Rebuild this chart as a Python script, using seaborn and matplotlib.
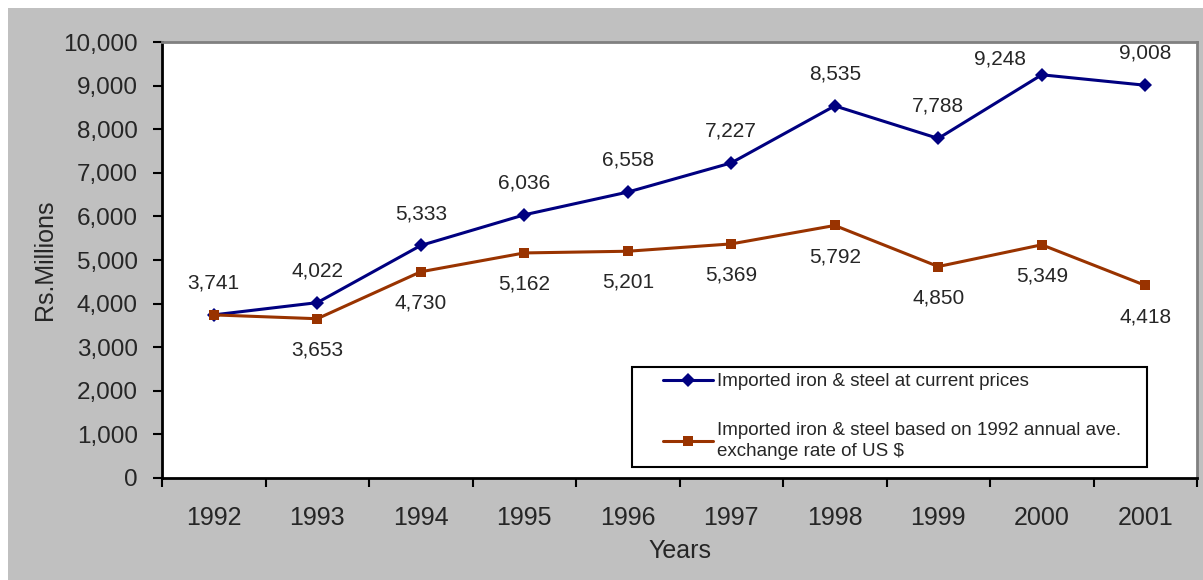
import numpy as np
import pandas as pd
import matplotlib.pyplot as plt
import matplotlib.patches as patches
from matplotlib.ticker import FuncFormatter, FixedLocator
import seaborn as sns

years = ['1992', '1993', '1994', '1995', '1996', '1997', '1998', '1999', '2000', '2001']
current_prices = [3741, 4022, 5333, 6036, 6558, 7227, 8535, 7788, 9248, 9008]
base_1992 = [3741, 3653, 4730, 5162, 5201, 5369, 5792, 4850, 5349, 4418]

lab_current = 'Imported iron & steel at current prices'
lab_base = 'Imported iron & steel based on 1992 annual ave.\nexchange rate of US $'

sns.set_style('white')
plt.rcParams['font.family'] = ['Liberation Sans', 'DejaVu Sans']

df = pd.DataFrame({
    'pos': list(range(len(years))) * 2,
    'value': current_prices + base_1992,
    'series': [lab_current] * len(years) + [lab_base] * len(years),
})

f = plt.figure(figsize=(12.03, 5.80), dpi=100, facecolor='white')
f.patches.append(patches.Rectangle((8 / 1203, 0), 1195 / 1203, 572 / 580,
                                   transform=f.transFigure, facecolor='#c0c0c0',
                                   edgecolor='none', zorder=-10))
ax = f.add_axes([162 / 1203, 102 / 580, 1035 / 1203, 436 / 580])
ax.set_facecolor('white')

palette = {lab_current: '#000080', lab_base: '#993300'}
sns.lineplot(data=df, x='pos', y='value', hue='series', style='series',
             palette=palette, markers={lab_current: 'D', lab_base: 's'},
             dashes=False, linewidth=2.2, markersize=7, markeredgewidth=0,
             ax=ax, legend=True)

# data labels, blue above / brown below (first point shared)
for i, v in enumerate(current_prices):
    off = (-30, 11.5) if years[i] == '2000' else (0, 23)
    ax.annotate(f'{v:,}', (i, v), xytext=off, textcoords='offset points',
                ha='center', va='center', fontsize=15, annotation_clip=False)
for i, v in enumerate(base_1992):
    if i == 0:
        continue
    ax.annotate(f'{v:,}', (i, v), xytext=(0, -22.5), textcoords='offset points',
                ha='center', va='center', fontsize=15)

ax.set_xlim(-0.5, len(years) - 0.5)
ax.set_ylim(0, 10000)
ax.yaxis.set_major_locator(FixedLocator(np.arange(0, 10001, 1000)))
ax.yaxis.set_major_formatter(FuncFormatter(lambda v, p: f'{int(v):,}'))
ax.set_xticks(np.arange(-0.5, len(years), 1.0))
ax.set_xticklabels([])
ax.set_xticks(range(len(years)), minor=True)
ax.set_xticklabels(years, minor=True)
ax.tick_params(axis='x', which='major', direction='out', length=6.5, width=1.5, color='black', bottom=True)
ax.tick_params(axis='x', which='minor', length=0, labelsize=18, pad=20)
ax.tick_params(axis='y', direction='out', length=6.5, width=1.5, color='black', left=True, labelsize=17.5, pad=11)

for s in ['left', 'bottom']:
    ax.spines[s].set_color('black')
    ax.spines[s].set_linewidth(2)
for s in ['top', 'right']:
    ax.spines[s].set_color('#808080')
    ax.spines[s].set_linewidth(2)

ax.set_xlabel('Years', fontsize=18, labelpad=7)
ax.set_ylabel('Rs.Millions', fontsize=18, labelpad=4.5)

# legend box drawn separately so the padding can match
ax.add_patch(patches.Rectangle((0.454, 0.025), 0.4976, 0.229, transform=ax.transAxes,
                               facecolor='white', edgecolor='black', linewidth=1.5, zorder=4))
handles, labels = ax.get_legend_handles_labels()
leg = ax.legend(handles, labels, loc='upper left', bbox_to_anchor=(0.484, 0.240),
                fontsize=13.5, frameon=False, labelspacing=1.67, handlelength=2.67,
                handletextpad=0.2, borderpad=0, borderaxespad=0)
leg.set_zorder(5)
for t in leg.get_texts():
    t.set_linespacing(1.35)
for h in leg.legend_handles:
    h.set_linewidth(2.2)

f.savefig('out.png', dpi=100, facecolor=f.get_facecolor())
